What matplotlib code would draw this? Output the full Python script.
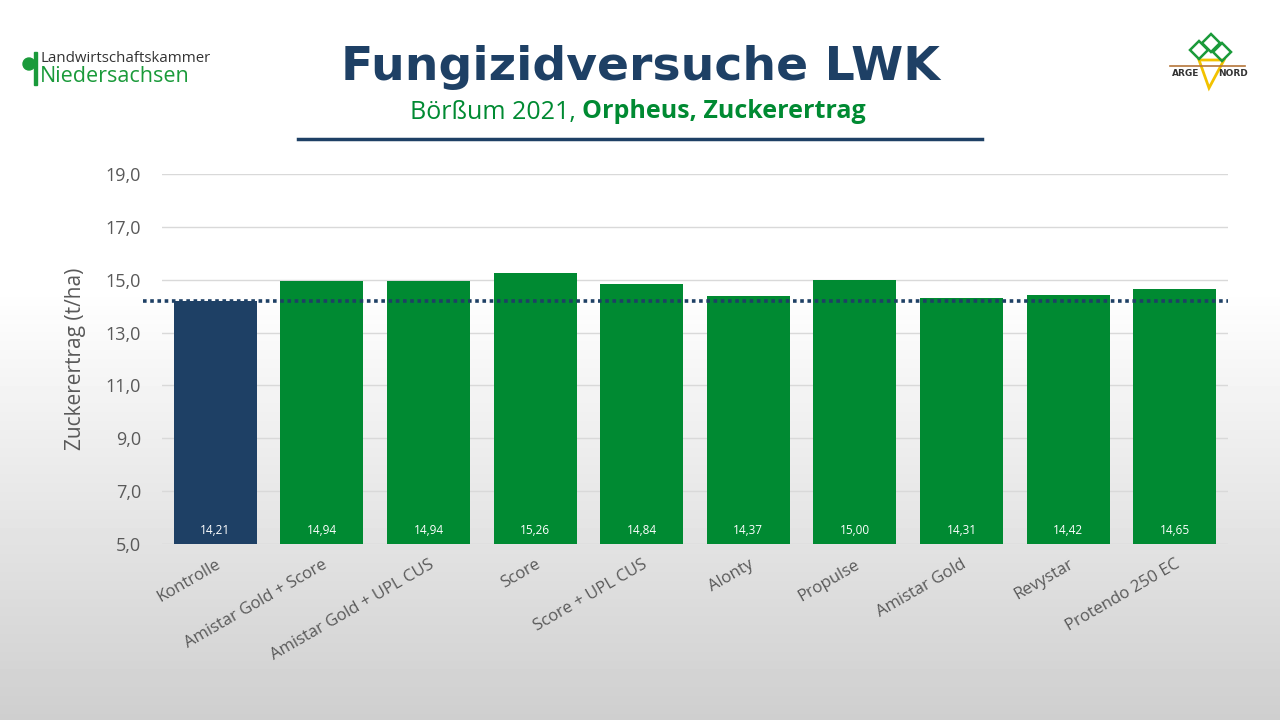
import numpy as np
import matplotlib
matplotlib.use("Agg")
import matplotlib.pyplot as plt
from matplotlib.patches import Ellipse, Rectangle, Polygon

categories = ["Kontrolle", "Amistar Gold + Score", "Amistar Gold + UPL CUS", "Score",
              "Score + UPL CUS", "Alonty", "Propulse", "Amistar Gold", "Revystar",
              "Protendo 250 EC"]
values = [14.21, 14.94, 14.94, 15.26, 14.84, 14.37, 15.00, 14.31, 14.42, 14.65]
value_labels = ["14,21", "14,94", "14,94", "15,26", "14,84", "14,37", "15,00", "14,31", "14,42", "14,65"]
yticks = [5, 7, 9, 11, 13, 15, 17, 19]
ytick_labels = ["5,0", "7,0", "9,0", "11,0", "13,0", "15,0", "17,0", "19,0"]
reference_value = 14.21

NAVY = "#1e4065"
GREEN = "#008a32"
GRAY = "#595959"

fig = plt.figure(figsize=(12.8, 7.2), dpi=100)

# background gradient
bg = fig.add_axes([0, 0, 1, 1], zorder=-10)
h = 720
t = np.linspace(0, 1, h)
col = np.where(t < 0.4, 1.0, 1.0 - (t - 0.4) / 0.6 * 0.19)
img = np.repeat(col[:, None], 10, axis=1)
bg.imshow(img, cmap="gray", vmin=0, vmax=1, aspect="auto", extent=[0, 1, 0, 1], origin="upper")
bg.set_xlim(0, 1)
bg.set_ylim(0, 1)
bg.axis("off")

ax = fig.add_axes([162 / 1280, 1 - 544 / 720, (1228 - 162) / 1280, (544 - 174) / 720])
ax.set_facecolor("none")
x = np.arange(len(categories))
colors = [NAVY] + [GREEN] * (len(categories) - 1)
ax.bar(x, [v - 5 for v in values], bottom=5, width=0.78, color=colors, zorder=3)
for xi, lab in zip(x, value_labels):
    ax.text(xi, 5.5, lab, ha="center", va="center", color="white", fontsize=8.5,
            family="Open Sans", zorder=4)

ax.set_xlim(-0.5, len(categories) - 0.5)
ax.set_ylim(5, 19)
ax.set_yticks(yticks)
ax.set_yticklabels(ytick_labels, fontsize=13, color=GRAY, family="Open Sans")
ax.set_xticks(x)
ax.set_xticklabels(categories, rotation=30, ha="right", rotation_mode="anchor",
                   fontsize=12, color=GRAY, family="Open Sans")
ax.tick_params(axis="both", length=0)
ax.tick_params(axis="y", pad=15)
ax.tick_params(axis="x", pad=9)
ax.grid(axis="y", color="#d9d9d9", linewidth=1, zorder=0)
for s in ax.spines.values():
    s.set_visible(False)
ax.axhline(5, color="#d9d9d9", linewidth=1, zorder=1)
ax.set_ylabel("Zuckerertrag (t/ha)", fontsize=15, color=GRAY, family="Open Sans", labelpad=14)

# reference dotted line
ax.plot([-0.68, len(categories) - 0.5], [reference_value, reference_value], color=NAVY,
        linewidth=2.6, linestyle=(0, (1.0, 1.0)), dash_capstyle="butt", clip_on=False, zorder=5)

# titles
fig.text(0.5, 1 - 68 / 720, "Fungizidversuche LWK",
         ha="center", va="center", fontsize=34, fontweight="bold", color=NAVY, family="DejaVu Sans")
sub1 = "Börßum 2021, "
sub2 = "Orpheus, Zuckerertrag"
t1 = fig.text(410 / 1280, 1 - 112 / 720, sub1, ha="left", va="center", fontsize=18,
              color=GREEN, family="Open Sans")
fig.canvas.draw()
bb = t1.get_window_extent()
fig.text(bb.x1 / 1280, 1 - 112 / 720, sub2, ha="left", va="center", fontsize=18,
         color=GREEN, family="Open Sans", fontweight="bold")
fig.add_artist(plt.Line2D([298 / 1280, 982 / 1280], [1 - 139 / 720] * 2, color=NAVY, linewidth=2.5))

# left logo
fig.add_artist(Ellipse((29 / 1280, 1 - 64 / 720), 12 / 1280, 12 / 720, transform=fig.transFigure, color="#1a9a3a"))
fig.add_artist(Rectangle((34 / 1280, 1 - 85 / 720), 2.5 / 1280, 33 / 720, transform=fig.transFigure, color="#1a9a3a"))
fig.text(40 / 1280, 1 - 59 / 720, "Landwirtschaftskammer", ha="left", va="center", fontsize=10.8,
         color="#333333", family="Open Sans")
fig.text(40 / 1280, 1 - 77 / 720, "Niedersachsen", ha="left", va="center", fontsize=15.5,
         color="#1a9a3a", family="Open Sans")

# right logo (approximation)
fig.add_artist(plt.Line2D([1170 / 1280, 1245 / 1280], [1 - 66 / 720] * 2, color="#b5763a", linewidth=1.2))
fig.add_artist(Polygon([(1199 / 1280, 1 - 60 / 720), (1224 / 1280, 1 - 60 / 720), (1209 / 1280, 1 - 88 / 720)],
                       closed=True, transform=fig.transFigure, facecolor="none", edgecolor="#f2c200", linewidth=2))
for cx, cy in [(1199, 50), (1211, 43), (1222, 52)]:
    fig.add_artist(Polygon([(cx / 1280, 1 - (cy - 9) / 720), ((cx + 9) / 1280, 1 - cy / 720),
                            (cx / 1280, 1 - (cy + 9) / 720), ((cx - 9) / 1280, 1 - cy / 720)],
                           closed=True, transform=fig.transFigure, facecolor="none",
                           edgecolor="#1a9a3a", linewidth=1.8))
fig.text(1186 / 1280, 1 - 73 / 720, "ARGE", ha="center", va="center", fontsize=6.5,
         fontweight="bold", color="#333333", family="DejaVu Sans")
fig.text(1233 / 1280, 1 - 73 / 720, "NORD", ha="center", va="center", fontsize=6.5,
         fontweight="bold", color="#333333", family="DejaVu Sans")

fig.savefig("out.png", dpi=100)
